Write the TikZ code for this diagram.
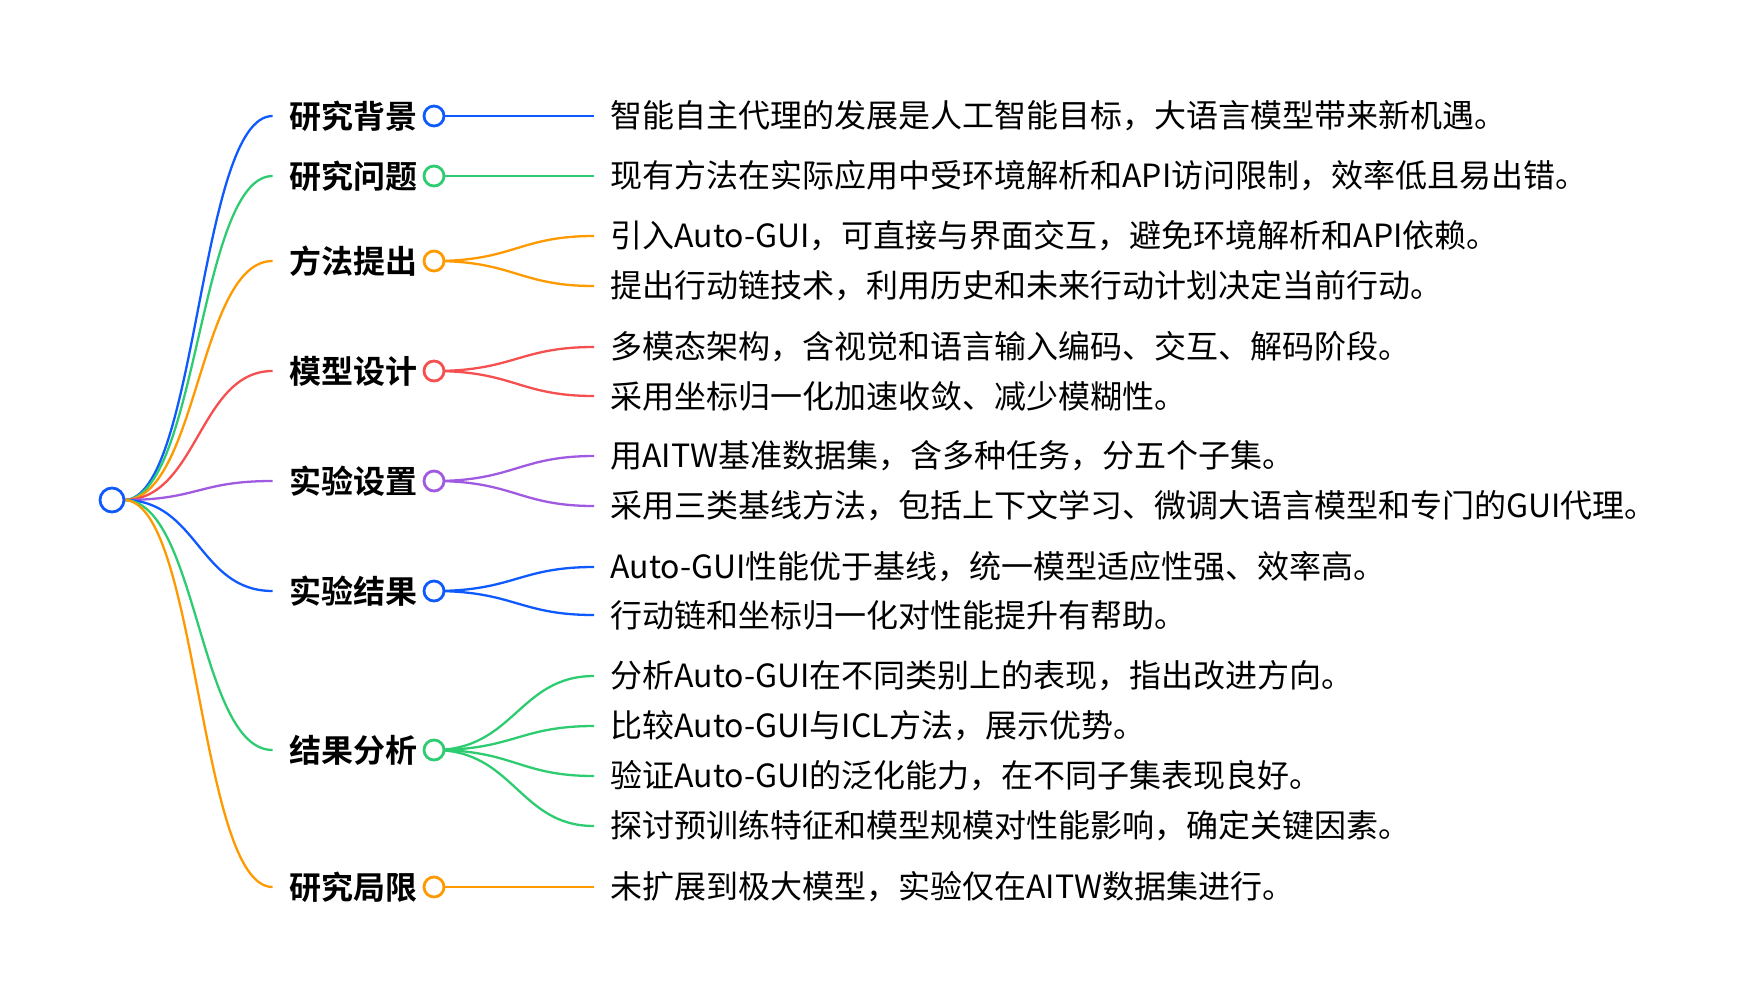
\documentclass[tikz,border=0pt]{standalone}
\usepackage{fontspec}
\setmainfont{Noto Sans CJK SC}[BoldFont={Noto Sans CJK SC Bold}]
\usepackage{xcolor}

\definecolor{mblue}{RGB}{14,90,255}
\definecolor{mgreen}{RGB}{46,204,113}
\definecolor{morange}{RGB}{255,153,0}
\definecolor{mred}{RGB}{245,79,79}
\definecolor{mpurple}{RGB}{160,90,225}

\tikzset{
    topic/.style={font=\fontsize{16pt}{19pt}\selectfont\bfseries, inner xsep=8pt, inner ysep=2pt},
    leaf/.style={anchor=west, font=\fontsize{16pt}{19pt}\selectfont, inner xsep=8pt, inner ysep=2pt},
    dot/.style={circle, draw=#1, line width=1.4pt, fill=white, minimum size=10pt, inner sep=0pt},
    branch/.style={#1, line width=1.15pt},
}

\begin{document}
\begin{tikzpicture}[x=0.5pt, y=-0.5pt]
    \useasboundingbox (0,0) rectangle (1760,1002);

    % Root
    \coordinate (rootc) at (112,500);

    % Topics
    \node[topic] (bg) at (353,116) {研究背景};
    \node[topic] (wt) at (353,176) {研究问题};
    \node[topic] (ff) at (353,261) {方法提出};
    \node[topic] (mx) at (353,371) {模型设计};
    \node[topic] (sz) at (353,481) {实验设置};
    \node[topic] (jg) at (353,591) {实验结果};
    \node[topic] (fx) at (353,750) {结果分析};
    \node[topic] (jx) at (353,887) {研究局限};

    % Root branches
    \foreach \t/\c in {bg/mblue, wt/mgreen, ff/morange, mx/mred, sz/mpurple, jg/mblue, fx/mgreen, jx/morange} {
        \draw[branch=\c] (124,500) .. controls +(74,0) and +(-74,0) .. (\t.west);
    }
    \node[dot=mblue, minimum size=12pt] (root) at (rootc) {};

    % Leaves
    \node[leaf] (bg1) at (594,116) {智能自主代理的发展是人工智能目标，大语言模型带来新机遇。};
    \node[leaf] (wt1) at (594,176) {现有方法在实际应用中受环境解析和API访问限制，效率低且易出错。};
    \node[leaf] (ff1) at (594,236) {引入Auto-GUI，可直接与界面交互，避免环境解析和API依赖。};
    \node[leaf] (ff2) at (594,286) {提出行动链技术，利用历史和未来行动计划决定当前行动。};
    \node[leaf] (mx1) at (594,347) {多模态架构，含视觉和语言输入编码、交互、解码阶段。};
    \node[leaf] (mx2) at (594,396) {采用坐标归一化加速收敛、减少模糊性。};
    \node[leaf] (sz1) at (594,456) {用AITW基准数据集，含多种任务，分五个子集。};
    \node[leaf] (sz2) at (594,506) {采用三类基线方法，包括上下文学习、微调大语言模型和专门的GUI代理。};
    \node[leaf] (jg1) at (594,567) {Auto-GUI性能优于基线，统一模型适应性强、效率高。};
    \node[leaf] (jg2) at (594,615) {行动链和坐标归一化对性能提升有帮助。};
    \node[leaf] (fx1) at (594,676) {分析Auto-GUI在不同类别上的表现，指出改进方向。};
    \node[leaf] (fx2) at (594,726) {比较Auto-GUI与ICL方法，展示优势。};
    \node[leaf] (fx3) at (594,776) {验证Auto-GUI的泛化能力，在不同子集表现良好。};
    \node[leaf] (fx4) at (594,826) {探讨预训练特征和模型规模对性能影响，确定关键因素。};
    \node[leaf] (jx1) at (594,887) {未扩展到极大模型，实验仅在AITW数据集进行。};

    % Topic dots and their branches
    \foreach \t in {bg, wt, ff, mx, sz, jg, fx, jx} {
        \coordinate (\t p) at ([xshift=40.5pt]\t.center);
    }
    \draw[branch=mblue] (bgp) -- (bg1.west);
    \draw[branch=mgreen] (wtp) -- (wt1.west);
    \draw[branch=morange] (jxp) -- (jx1.west);
    \foreach \t/\c/\l in {ff/morange/ff1, ff/morange/ff2, mx/mred/mx1, mx/mred/mx2,
                          sz/mpurple/sz1, sz/mpurple/sz2, jg/mblue/jg1, jg/mblue/jg2,
                          fx/mgreen/fx1, fx/mgreen/fx2, fx/mgreen/fx3, fx/mgreen/fx4} {
        \draw[branch=\c] (\t p) .. controls +(80,0) and +(-75,0) .. (\l.west);
    }
    \foreach \t/\c in {bg/mblue, wt/mgreen, ff/morange, mx/mred, sz/mpurple, jg/mblue, fx/mgreen, jx/morange} {
        \node[dot=\c] (\t c) at (\t p) {};
    }
\end{tikzpicture}
\end{document}
